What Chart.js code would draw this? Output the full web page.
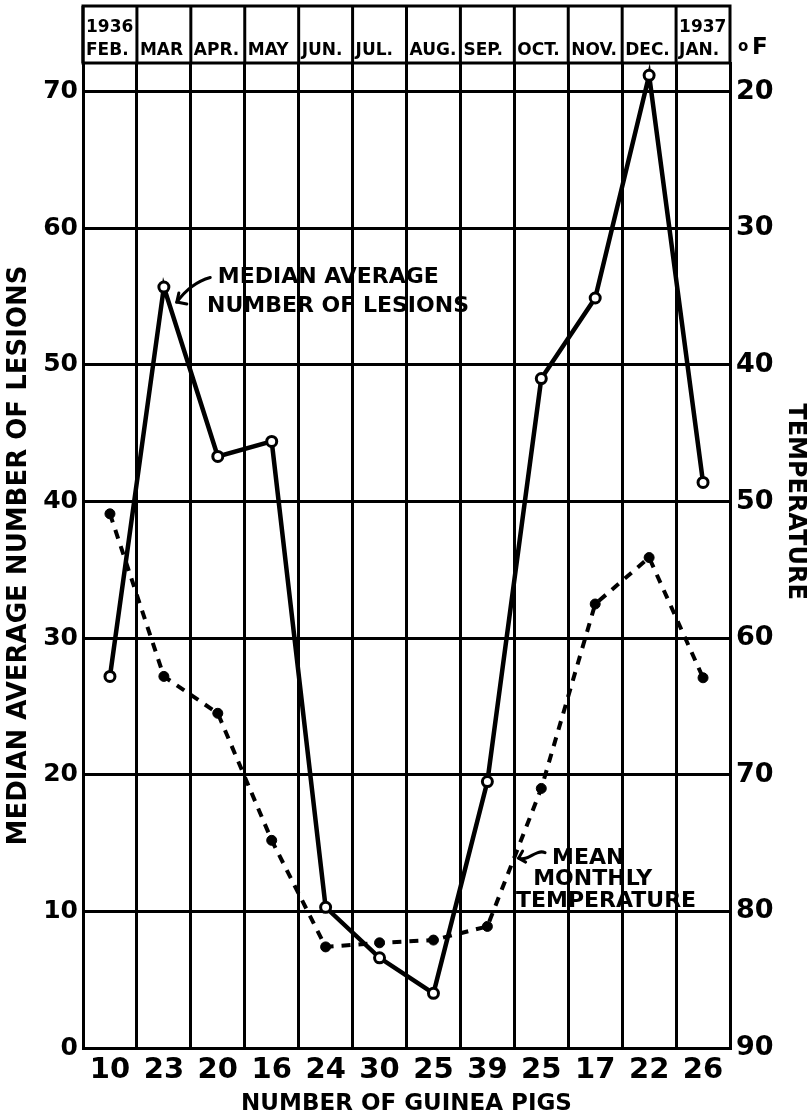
<!DOCTYPE html>
<html>
<head>
<meta charset="utf-8">
<script src="https://cdn.jsdelivr.net/npm/chart.js@4"></script>
<style>
body{margin:0;background:#fff}
canvas{display:block}
</style>
</head>
<body>
<canvas id="chart" width="809" height="1118"></canvas>
<script>
const months = ["FEB.","MAR","APR.","MAY","JUN.","JUL.","AUG.","SEP.","OCT.","NOV.","DEC.","JAN."]
const years = ["1936","","","","","","","","","","","1937"]
const pigCounts = [10,23,20,16,24,30,25,39,25,17,22,26]

// median average number of lesions (left axis)
const lesions = [27.2,55.7,43.3,44.4,10.3,6.6,4.0,19.5,49.0,54.9,71.2,41.4]
// mean monthly temperature, deg F (right axis, reversed)
const temperature = [50.9,62.8,65.5,74.8,82.6,82.3,82.1,81.1,71.0,57.5,54.1,62.9]

const lesionTicks = [0,10,20,30,40,50,60,70]
const tempTicks = [20,30,40,50,60,70,80,90]

const lesionNote = ["MEDIAN AVERAGE","NUMBER OF LESIONS"]
const tempNote = ["MEAN","MONTHLY","TEMPERATURE"]
const tempTitle = "TEMPERATURE"

const FONT = "DejaVu Sans"

const headerPlugin = {
id:"header",
afterDraw(chart){
const {ctx, chartArea:a, scales:{x, y2}} = chart
const top = 6
const half = (x.getPixelForValue(1) - x.getPixelForValue(0)) / 2
ctx.save()
ctx.strokeStyle = "#000"
ctx.lineWidth = 3
ctx.strokeRect(a.left, top, a.right - a.left, a.top - top)
ctx.fillStyle = "#000"
ctx.font = "bold 17px " + FONT
ctx.textBaseline = "alphabetic"
months.forEach((m,i)=>{
const left = x.getPixelForValue(i) - half
ctx.beginPath()
ctx.moveTo(left, top)
ctx.lineTo(left, a.top)
ctx.stroke()
ctx.fillText(m, left + 3, 55)
if(years[i]) ctx.fillText(years[i], left + 3, 32)
})
// degrees F
ctx.font = "bold 15px " + FONT
ctx.fillText("o", a.right + 8, 51)
ctx.font = "bold 23px " + FONT
ctx.fillText("F", a.right + 22, 54)
// right axis title, read top to bottom
ctx.translate(chart.width - 14, y2.getPixelForValue(50))
ctx.rotate(Math.PI / 2)
ctx.font = "bold 24px " + FONT
ctx.textAlign = "center"
ctx.textBaseline = "middle"
ctx.fillText(tempTitle, 0, 0)
ctx.restore()
}
}

const notesPlugin = {
id:"notes",
afterDatasetsDraw(chart){
const {ctx, scales:{x, y}} = chart
const px = (i,v) => [x.getPixelForValue(i), y.getPixelForValue(v)]
ctx.save()
ctx.fillStyle = "#000"
ctx.strokeStyle = "#000"
ctx.font = "bold 22px " + FONT
ctx.textBaseline = "alphabetic"

let p = px(2.0, 56.0); ctx.fillText(lesionNote[0], p[0], p[1])
p = px(1.8, 53.9); ctx.fillText(lesionNote[1], p[0], p[1])

p = px(8.2, 13.5); ctx.fillText(tempNote[0], p[0], p[1])
p = px(7.85, 11.9); ctx.fillText(tempNote[1], p[0], p[1])
p = px(7.53, 10.3); ctx.fillText(tempNote[2], p[0], p[1])

ctx.lineWidth = 3
ctx.lineCap = "round"
// arrow to lesion line
let s = px(1.86, 56.4), c = px(1.5, 56.0), e = px(1.24, 54.6)
ctx.beginPath(); ctx.moveTo(s[0], s[1]); ctx.quadraticCurveTo(c[0], c[1], e[0], e[1]); ctx.stroke()
ctx.beginPath()
ctx.moveTo(e[0] + 2, e[1] - 9); ctx.lineTo(e[0], e[1]); ctx.lineTo(e[0] + 10, e[1] + 2)
ctx.stroke()
// arrow to temperature line
s = px(8.07, 14.3); e = px(7.58, 13.9)
const m1 = px(7.9, 14.6), m2 = px(7.75, 13.6)
ctx.beginPath(); ctx.moveTo(s[0], s[1]); ctx.bezierCurveTo(m1[0], m1[1], m2[0], m2[1], e[0], e[1]); ctx.stroke()
ctx.beginPath()
ctx.moveTo(e[0] + 4, e[1] - 7); ctx.lineTo(e[0], e[1]); ctx.lineTo(e[0] + 7, e[1] + 4)
ctx.stroke()
ctx.restore()
}
}

new Chart(document.getElementById("chart").getContext("2d"),{
type:"line",
data:{
labels:months,
datasets:[{
label:"Mean monthly temperature",
data:temperature,
yAxisID:"y2",
borderColor:"#000",
borderWidth:4,
borderDash:[9,8],
pointRadius:5,
pointBackgroundColor:"#000",
pointBorderColor:"#000",
pointBorderWidth:1,
tension:0
},{
label:"Median average number of lesions",
data:lesions,
yAxisID:"y",
borderColor:"#000",
borderWidth:4.5,
pointRadius:5,
pointBackgroundColor:"#fff",
pointBorderColor:"#000",
pointBorderWidth:3,
tension:0
}]
},
options:{
responsive:false,
animation:false,
devicePixelRatio:1,
layout:{padding:{top:63,left:0,right:0,bottom:0}},
plugins:{legend:{display:false},tooltip:{enabled:false}},
scales:{
x:{
offset:true,
grid:{offset:true,color:"#000",lineWidth:3,drawTicks:false},
border:{color:"#000",width:3},
ticks:{
color:"#000",
font:{family:FONT,weight:"bold",size:29},
padding:5,
maxRotation:0,
autoSkip:false,
callback:(v,i)=>String(pigCounts[i])
},
title:{display:true,text:"NUMBER OF GUINEA PIGS",color:"#000",
font:{family:FONT,weight:"bold",size:23},padding:{top:0,bottom:0}},
afterFit:s=>{s.height = 70}
},
y:{
position:"left",
min:0,
max:72.1,
grid:{color:"#000",lineWidth:3,drawTicks:false},
border:{color:"#000",width:3},
ticks:{color:"#000",font:{family:FONT,weight:"bold",size:25},padding:5},
afterBuildTicks:s=>{s.ticks = lesionTicks.map(v=>({value:v}))},
title:{display:true,text:"MEDIAN AVERAGE NUMBER OF LESIONS",color:"#000",
font:{family:FONT,weight:"bold",size:26},padding:{top:4,bottom:0}},
afterFit:s=>{s.width = 83}
},
y2:{
position:"right",
reverse:true,
min:17.9,
max:90,
grid:{display:false,drawTicks:false},
border:{display:true,color:"#000",width:3},
ticks:{color:"#000",font:{family:FONT,weight:"bold",size:27},padding:6},
afterBuildTicks:s=>{s.ticks = tempTicks.map(v=>({value:v}))},
title:{display:false},
afterFit:s=>{s.width = 79}
}
}
},
plugins:[headerPlugin,notesPlugin]
})
</script>
</body>
</html>
